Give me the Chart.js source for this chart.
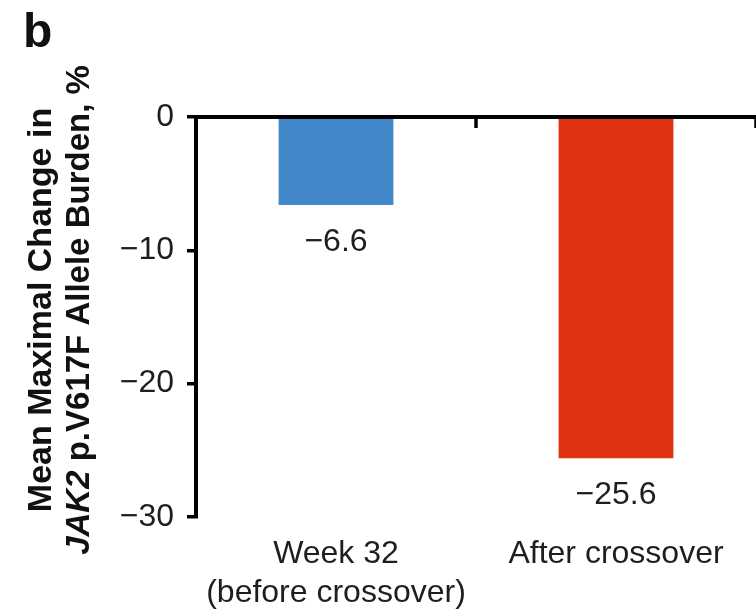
<!DOCTYPE html>
<html lang="en">
<head>
    <meta charset="UTF-8">
    <title>JAK2 allele burden change</title>
    <script src="https://cdn.jsdelivr.net/npm/chart.js"></script>
    <style>
        body { margin: 0; background: #fff; }
        canvas { display: block; }
    </style>
</head>
<body>
    <canvas id="chart" width="756" height="616"></canvas>

    <script>
        // data
        var categories = [['Week 32', '(before crossover)'], 'After crossover'];
        var changes = [-6.6, -25.6];
        var barColors = ['#4388c8', '#de3213'];
        var yTicks = [0, -10, -20, -30];

        var FONT = '"Liberation Sans", Arial, Helvetica, sans-serif';
        var TEXT = '#1e1e1e';

        function minus(v) {
            return String(v).replace('-', '\u2212');
        }

        // panel letter, y title (JAK2 in italics), zero line, value labels
        var decorations = {
            id: 'decorations',
            afterDraw: function(chart) {
                var ctx = chart.ctx;
                var x = chart.scales.x;
                var y = chart.scales.y;
                var area = chart.chartArea;
                var y0 = y.getPixelForValue(0);

                ctx.save();
                // line at zero across the top of the plot
                ctx.strokeStyle = '#000';
                ctx.lineWidth = 4;
                ctx.beginPath();
                ctx.moveTo(area.left - 2, y0);
                ctx.lineTo(area.right, y0);
                ctx.stroke();
                // tick marks between categories
                ctx.lineWidth = 3.5;
                [0.5, 1.5].forEach(function(v) {
                    var px = x.getPixelForValue(v);
                    ctx.beginPath();
                    ctx.moveTo(px, y0);
                    ctx.lineTo(px, y0 + 11);
                    ctx.stroke();
                });

                // value labels under the bars
                ctx.fillStyle = TEXT;
                ctx.font = '32px ' + FONT;
                ctx.textAlign = 'center';
                ctx.textBaseline = 'middle';
                chart.getDatasetMeta(0).data.forEach(function(bar, i) {
                    ctx.fillText(minus(changes[i]), bar.x, bar.y + 37);
                });

                // panel letter
                ctx.fillStyle = '#111';
                ctx.font = 'bold 48px ' + FONT;
                ctx.textAlign = 'left';
                ctx.textBaseline = 'alphabetic';
                ctx.fillText('b', 23, 47);

                // y axis title, two lines, rotated
                var cy = 310;
                ctx.save();
                ctx.translate(51, cy);
                ctx.rotate(-Math.PI / 2);
                ctx.font = 'bold 34px ' + FONT;
                ctx.textAlign = 'center';
                ctx.fillText('Mean Maximal Change in', 0, 0);
                ctx.restore();

                ctx.save();
                ctx.translate(89, cy);
                ctx.rotate(-Math.PI / 2);
                var parts = [
                    { t: 'JAK2', f: 'italic bold 33px ' + FONT },
                    { t: ' p.V617F Allele Burden, %', f: 'bold 33px ' + FONT }
                ];
                var total = 0;
                parts.forEach(function(p) {
                    ctx.font = p.f;
                    p.w = ctx.measureText(p.t).width;
                    total += p.w;
                });
                var pos = -total / 2;
                ctx.textAlign = 'left';
                parts.forEach(function(p) {
                    ctx.font = p.f;
                    ctx.fillText(p.t, pos, 0);
                    pos += p.w;
                });
                ctx.restore();

                ctx.restore();
            }
        };

        var ctx = document.getElementById('chart').getContext('2d');
        new Chart(ctx, {
            type: 'bar',
            data: {
                labels: categories,
                datasets: [{
                    data: changes,
                    backgroundColor: barColors,
                    borderWidth: 0,
                    categoryPercentage: 1,
                    barPercentage: 0.41
                }]
            },
            options: {
                responsive: false,
                animation: false,
                layout: { padding: { top: 117, right: 0, left: 0, bottom: 0 } },
                plugins: {
                    legend: { display: false },
                    tooltip: { enabled: false }
                },
                scales: {
                    x: {
                        position: 'bottom',
                        grid: { display: false, drawTicks: false },
                        border: { display: false },
                        ticks: {
                            color: TEXT,
                            padding: 18,
                            maxRotation: 0,
                            font: { family: FONT, size: 32, lineHeight: 1.22 }
                        },
                        afterFit: function(scale) { scale.height = 99; }
                    },
                    y: {
                        min: -30,
                        max: 0,
                        afterBuildTicks: function(scale) {
                            scale.ticks = yTicks.map(function(v) { return { value: v }; });
                        },
                        grid: {
                            drawOnChartArea: false,
                            drawTicks: true,
                            tickLength: 9,
                            color: '#000',
                            lineWidth: 3.5
                        },
                        border: { display: true, color: '#000', width: 4 },
                        ticks: {
                            color: TEXT,
                            padding: 13,
                            font: { family: FONT, size: 32 },
                            callback: function(v) { return minus(v); }
                        },
                        afterFit: function(scale) { scale.width = 196; }
                    }
                }
            },
            plugins: [decorations]
        });
    </script>
</body>
</html>
